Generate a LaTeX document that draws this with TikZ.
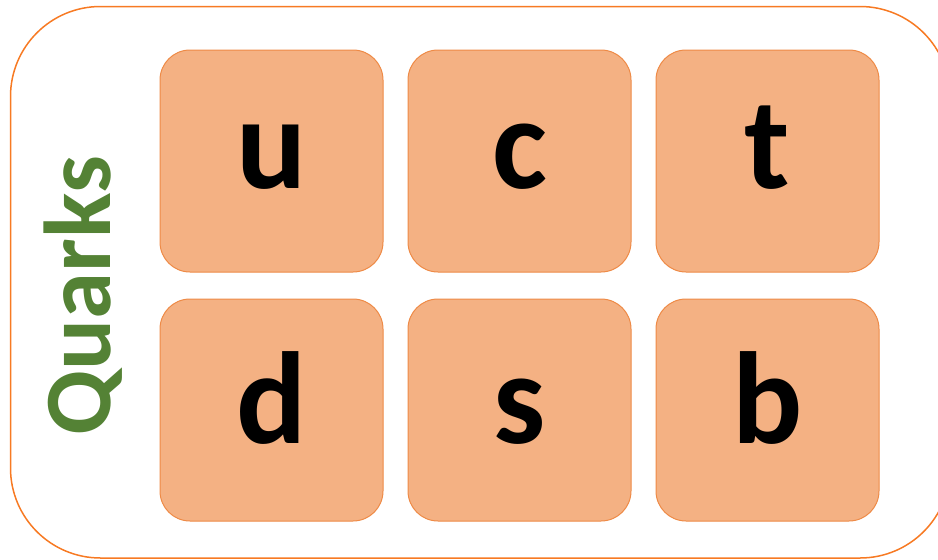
\documentclass[tikz,border=0pt]{standalone}
\usepackage{fontspec}
\setmainfont{Carlito}
\definecolor{outerc}{RGB}{247,122,35}
\definecolor{innerc}{RGB}{238,138,70}
\definecolor{fillc}{RGB}{244,177,131}
\definecolor{greenc}{RGB}{84,130,53}
\tikzset{
  qbox/.style={draw=innerc, fill=fillc, line width=1pt, rounded corners=30pt},
  qlet/.style={anchor=base, font=\bfseries\fontsize{131}{131}\selectfont, text=black, inner sep=0pt},
}
\begin{document}
\begin{tikzpicture}[x=1pt,y=-1pt]
\useasboundingbox (0,0) rectangle (938,560);
\draw[draw=outerc, line width=1.5pt, rounded corners=90pt] (10.5,6.5) rectangle (950,558);
\foreach \name/\cx/\cy/\by/\l in {u/271.5/161/188/u, c/519.5/161/188/c, t/767.5/161/188/t,
                                  d/271.5/410/443/d, s/519.5/410/443/s, b/767.5/410/443/b}{
  \path[qbox] (\cx-111.5,\cy-111) rectangle (\cx+111.5,\cy+111);
  \node[qlet] (\name) at (\cx,\by) {\l};
}
\node[rotate=90, anchor=base, inner sep=0pt, text=greenc, font=\bfseries\fontsize{95}{95}\selectfont] (q) at (110,295.5) {Quarks};
\end{tikzpicture}
\end{document}
